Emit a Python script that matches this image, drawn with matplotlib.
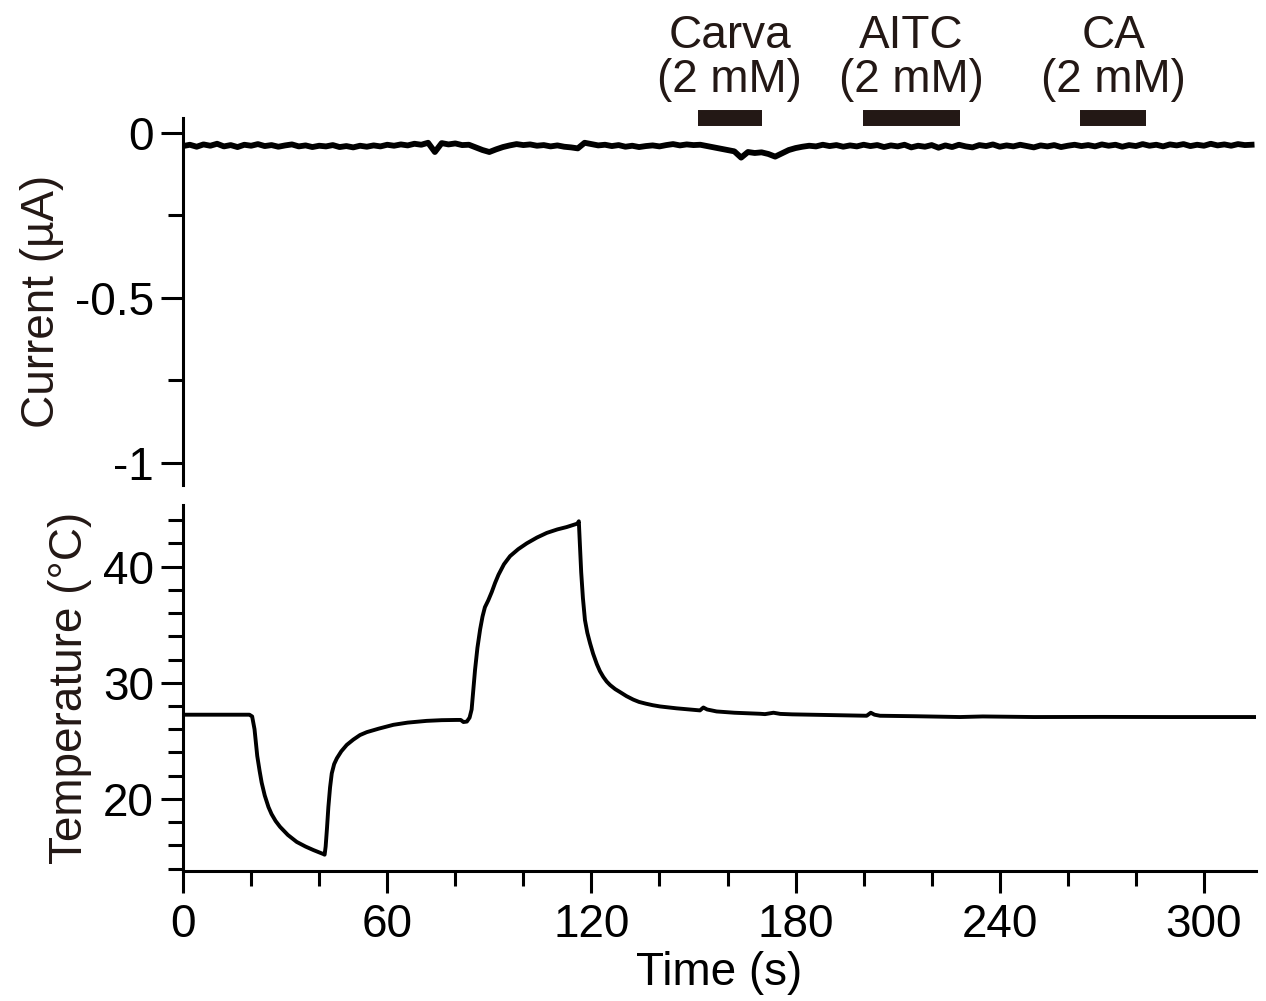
import numpy as np
import matplotlib.pyplot as plt
from matplotlib.transforms import blended_transform_factory

plt.rcParams['font.family'] = ['Liberation Sans', 'DejaVu Sans']

# current trace, sampled every 2 s (uA)
t_cur = np.arange(0, 316, 2)
current = [
    -0.040, -0.036, -0.042, -0.035, -0.039, -0.033, -0.041, -0.037, -0.043, -0.036,
    -0.039, -0.034, -0.040, -0.037, -0.042, -0.038, -0.035, -0.041, -0.038, -0.043,
    -0.039, -0.041, -0.037, -0.043, -0.040, -0.044, -0.039, -0.042, -0.038, -0.041,
    -0.036, -0.039, -0.035, -0.038, -0.033, -0.036, -0.030, -0.058, -0.031, -0.035,
    -0.032, -0.037, -0.036, -0.044, -0.052, -0.058, -0.050, -0.043, -0.038, -0.034,
    -0.037, -0.035, -0.039, -0.037, -0.041, -0.038, -0.042, -0.044, -0.047, -0.030,
    -0.034, -0.038, -0.036, -0.040, -0.037, -0.042, -0.039, -0.043, -0.040, -0.038,
    -0.041, -0.037, -0.034, -0.038, -0.035, -0.037, -0.036, -0.040, -0.044, -0.048,
    -0.052, -0.056, -0.075, -0.058, -0.061, -0.059, -0.064, -0.072, -0.062, -0.052,
    -0.046, -0.042, -0.039, -0.041, -0.036, -0.040, -0.037, -0.042, -0.038, -0.041,
    -0.036, -0.040, -0.037, -0.043, -0.038, -0.041, -0.036, -0.044, -0.039, -0.042,
    -0.037, -0.045, -0.038, -0.043, -0.036, -0.041, -0.044, -0.037, -0.040, -0.035,
    -0.042, -0.038, -0.041, -0.036, -0.040, -0.044, -0.038, -0.041, -0.037, -0.043,
    -0.039, -0.036, -0.040, -0.037, -0.041, -0.035, -0.039, -0.036, -0.042, -0.037,
    -0.040, -0.034, -0.039, -0.036, -0.041, -0.035, -0.038, -0.034, -0.040, -0.036,
    -0.039, -0.033, -0.038, -0.035, -0.039, -0.034, -0.037, -0.036,
]

# bath temperature (deg C), read at key times
t_temp = [0, 19.5, 20.3, 21.0, 21.8, 22.5, 23.1, 24.0, 25.1, 26.0, 27.2, 28.5, 30.8,
          33.4, 36.0, 38.3, 40.0, 41.2, 41.6, 41.9, 42.3, 42.7, 43.2, 43.7, 44.4,
          45.2, 46.5, 48.1, 50.0, 52.0, 54.0, 57.5, 61.8, 66.0, 71.6, 76.0, 80.4,
          81.6, 82.4, 83.4, 84.2, 84.8, 85.3, 85.8, 86.5, 87.3, 88.0, 88.7, 89.7,
          90.7, 91.7, 92.7, 94.3, 96.1, 98.5, 101.0, 104.0, 106.9, 110.0, 112.7,
          115.9, 116.3, 116.6, 117.0, 117.5, 118.1, 118.8, 119.6, 120.5, 121.6,
          122.5, 123.5, 124.5, 125.5, 127.0, 128.4, 130.3, 132.3, 134.0, 136.0,
          138.0, 140.2, 145.0, 150.0, 151.9, 152.9, 154.0, 156.8, 162.0, 169.6,
          171.0, 173.5, 175.5, 179.0, 190.0, 200.9, 202.1, 203.2, 204.8, 215.0,
          228.3, 235.0, 250.0, 270.0, 290.0, 315.0]
temp = [27.25, 27.25, 27.1, 26.0, 23.7, 22.4, 21.4, 20.3, 19.3, 18.7, 18.1, 17.6, 16.9,
        16.3, 15.9, 15.6, 15.4, 15.26, 15.2, 15.9, 17.5, 19.3, 21.0, 22.2, 23.0,
        23.5, 24.1, 24.65, 25.1, 25.5, 25.75, 26.05, 26.38, 26.57, 26.72, 26.78, 26.8,
        26.8, 26.62, 26.66, 27.0, 27.7, 29.4, 31.1, 33.0, 34.6, 35.7, 36.5, 37.1,
        37.8, 38.6, 39.3, 40.2, 40.9, 41.5, 42.0, 42.5, 42.9, 43.2, 43.4,
        43.7, 43.9, 42.0, 39.5, 37.3, 35.4, 34.3, 33.4, 32.5, 31.6,
        31.0, 30.5, 30.1, 29.8, 29.45, 29.2, 28.85, 28.55, 28.35, 28.2,
        28.07, 27.96, 27.8, 27.67, 27.62, 27.87, 27.7, 27.53, 27.42, 27.33,
        27.3, 27.42, 27.32, 27.28, 27.22, 27.16, 27.42, 27.25, 27.16, 27.12,
        27.05, 27.1, 27.05, 27.06, 27.05, 27.05]

# drug application bars
drugs = ['Carva\n(2 mM)', 'AITC\n(2 mM)', 'CA\n(2 mM)']
drug_on = [151.3, 199.8, 263.6]
drug_off = [170.1, 228.3, 283.0]

ink = '#231815'
fs = 33

fig = plt.figure(figsize=(12.66, 10.01), dpi=100)
ax1 = fig.add_axes([0.1446, 0.5155, 0.8475, 0.3666])
ax2 = fig.add_axes([0.1446, 0.1299, 0.8475, 0.3656])

ax1.plot(t_cur, current, color='black', lw=4.2, solid_joinstyle='round')
ax1.set_xlim(0, 315.3)
ax1.set_ylim(-1.067, 0.045)
ax1.set_yticks([0, -0.5, -1])
ax1.set_yticklabels(['0', '-0.5', '-1'])
ax1.set_yticks([-0.25, -0.75], minor=True)
ax1.set_xticks([])
for s in ['top', 'right', 'bottom']:
    ax1.spines[s].set_visible(False)
ax1.set_ylabel('Current (µA)', fontsize=fs, color=ink, labelpad=8)

trans = blended_transform_factory(ax1.transData, ax1.transAxes)
for name, on, off in zip(drugs, drug_on, drug_off):
    ax1.plot([on, off], [1.0, 1.0], color=ink, lw=11.5, solid_capstyle='butt',
             transform=trans, clip_on=False)
    ax1.text((on + off) / 2, 1.045, name, transform=trans, ha='center', va='bottom',
             fontsize=fs, color=ink, linespacing=1.0, multialignment='center')

ax2.plot(t_temp, temp, color='black', lw=2.8)
ax2.set_xlim(0, 315.3)
ax2.set_ylim(13.8, 45.3)
ax2.set_yticks([20, 30, 40])
ax2.set_yticks(np.arange(14, 45, 2), minor=True)
ax2.set_xticks([0, 60, 120, 180, 240, 300])
ax2.set_xticks(np.arange(0, 316, 20), minor=True)
for s in ['top', 'right']:
    ax2.spines[s].set_visible(False)
ax2.set_ylabel('Temperature (°C)', fontsize=fs, color=ink, labelpad=8)
ax2.set_xlabel('Time (s)', fontsize=fs, color='black', labelpad=3)

for ax in (ax1, ax2):
    for s in ax.spines.values():
        s.set_linewidth(2.2)
    ax.tick_params(which='major', length=16, width=2.2, labelsize=fs, pad=5)
    ax.tick_params(which='minor', length=10.5, width=2.2)
ax2.tick_params(axis='x', which='major', pad=7)

fig.savefig('out.png', dpi=100)
